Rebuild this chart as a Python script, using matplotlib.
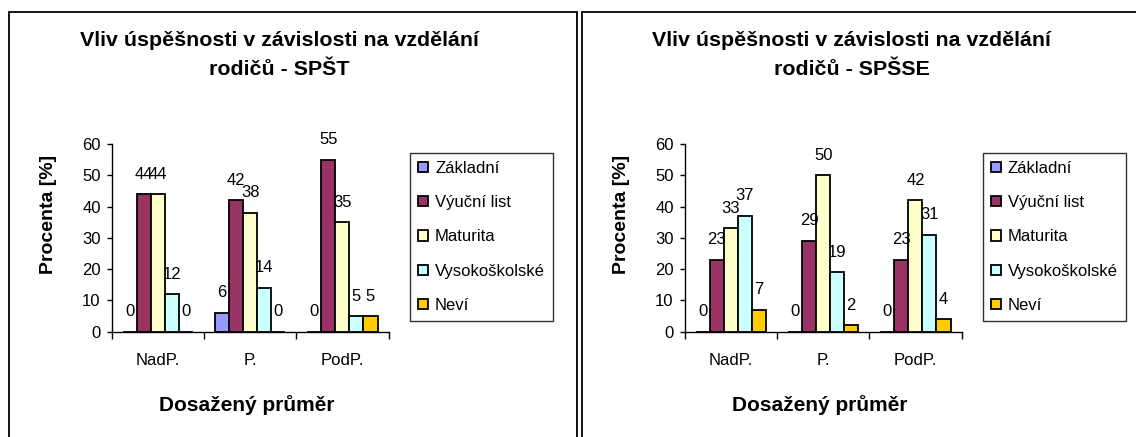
"""Vliv úspěšnosti v závislosti na vzdělání rodičů - SPŠT / SPŠSE
"""
import matplotlib.patches as mpatches
import matplotlib.pyplot as plt
import numpy as np

plt.rcParams['font.family'] = ['Liberation Sans', 'DejaVu Sans']

# Data
groups = ['NadP.', 'P.', 'PodP.']
series = ['Základní', 'Výuční list', 'Maturita', 'Vysokoškolské', 'Neví']
colors = ['#9999FF', '#993366', '#FFFFCC', '#CCFFFF', '#FFCC00']

spst_zakladni = [0, 6, 0]
spst_vyucni = [44, 42, 55]
spst_maturita = [44, 38, 35]
spst_vysokoskolske = [12, 14, 5]
spst_nevi = [0, 0, 5]

spsse_zakladni = [0, 0, 0]
spsse_vyucni = [23, 29, 23]
spsse_maturita = [33, 50, 42]
spsse_vysokoskolske = [37, 19, 31]
spsse_nevi = [7, 2, 4]

W, H = 1136, 437
FS = 12
fig = plt.figure(figsize=(W / 100, H / 100), dpi=100)


def px(x0, y0, x1, y1):
    """pixel box (top-left origin) -> figure fraction rect"""
    return [x0 / W, 1 - y1 / H, (x1 - x0) / W, (y1 - y0) / H]


def panel(x_off, title, data):
    # chart area frame
    fig.add_artist(mpatches.Rectangle(
        ((9 + x_off) / W, -0.1), 568 / W, 1.1 - 12 / H,
        transform=fig.transFigure, facecolor='none', edgecolor='black',
        linewidth=1.3))

    ax = fig.add_axes(px(111.7 + x_off, 144, 388.6 + x_off, 331.7))
    x = np.arange(len(groups))
    bw = 0.152
    handles = []
    for i, (name, vals, col) in enumerate(zip(series, data, colors)):
        pos = x + (i - 2) * bw
        bars = ax.bar(pos, vals, bw, color=col, edgecolor='black',
                      linewidth=1.3, label=name)
        handles.append(bars)
        for p, v in zip(pos, vals):
            ax.annotate(str(v), (p, v), xytext=(0, 14.4),
                        textcoords='offset points', ha='center',
                        va='center', fontsize=FS)

    ax.set_xlim(-0.5, 2.5)
    ax.set_ylim(0, 60)
    ax.set_yticks(range(0, 61, 10))
    ax.set_xticks(x)
    ax.set_xticklabels(groups)
    ax.set_xticks([-0.5, 0.5, 1.5, 2.5], minor=True)
    ax.tick_params(axis='x', which='major', length=0, pad=15, labelsize=FS)
    ax.tick_params(axis='x', which='minor', length=4.8, width=1)
    ax.tick_params(axis='y', length=3.6, width=1, pad=4.3, labelsize=FS)
    for s in ('top', 'right'):
        ax.spines[s].set_visible(False)
    for s in ('left', 'bottom'):
        ax.spines[s].set_linewidth(1)
    ax.patch.set_visible(False)

    ax.set_ylabel('Procenta [%]', fontsize=14, fontweight='bold')
    ax.yaxis.set_label_coords(-0.23, 0.627)
    ax.set_xlabel('Dosažený průměr', fontsize=15, fontweight='bold')
    ax.xaxis.set_label_coords(0.489, -0.39)
    ax.xaxis.label.set_va('center')
    ax.yaxis.label.set_va('center')

    fig.text((279 + x_off) / W, 1 - 55 / H, title, ha='center',
             va='center', fontsize=15.4, fontweight='bold', linespacing=1.7)

    leg = ax.legend(handles=handles, loc='upper left',
                    bbox_to_anchor=((410 + x_off) / W, 1 - 152.7 / H),
                    bbox_transform=fig.transFigure, fancybox=False,
                    edgecolor='black', fontsize=FS, handlelength=0.6,
                    handleheight=0.6, handletextpad=0.42, labelspacing=1.16,
                    borderpad=0.48, borderaxespad=0)
    leg.get_frame().set_linewidth(1)
    return ax


panel(0, 'Vliv úspěšnosti v závislosti na vzdělání\nrodičů - SPŠT',
      [spst_zakladni, spst_vyucni, spst_maturita, spst_vysokoskolske,
       spst_nevi])
panel(573, 'Vliv úspěšnosti v závislosti na vzdělání\nrodičů - SPŠSE',
      [spsse_zakladni, spsse_vyucni, spsse_maturita, spsse_vysokoskolske,
       spsse_nevi])

fig.savefig('out.png', dpi=100)
